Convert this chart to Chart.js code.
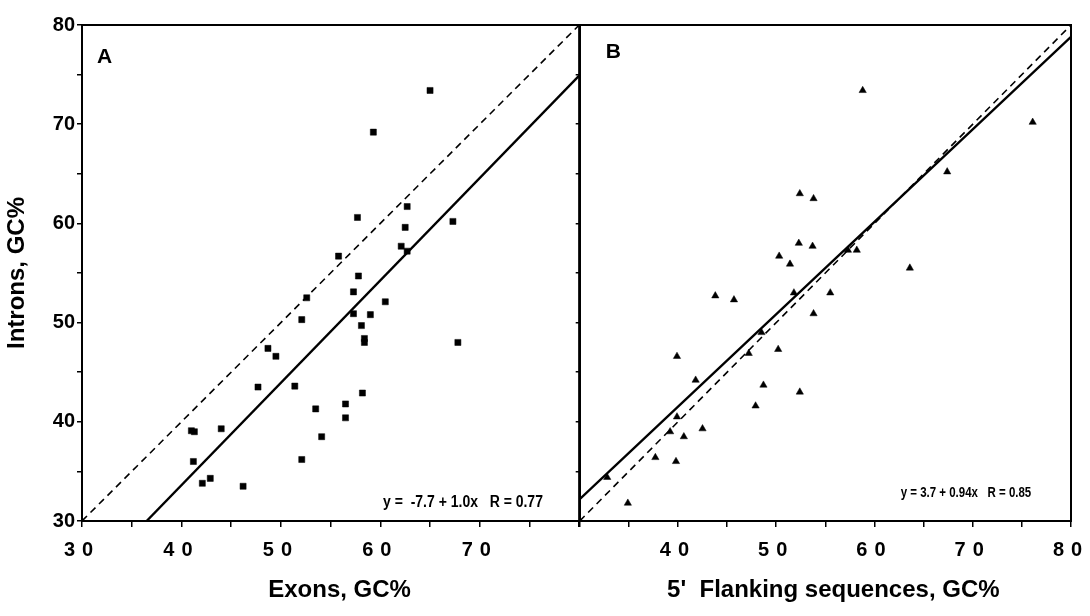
<!DOCTYPE html>
<html><head><meta charset="utf-8">
<script src="https://cdn.jsdelivr.net/npm/chart.js@4.4.1/dist/chart.umd.min.js"></script>
<style>
html,body{margin:0;padding:0;background:#fff;width:1090px;height:616px;overflow:hidden}
#ca{position:absolute;left:0;top:0}
#cb{position:absolute;left:575px;top:0}
</style></head><body>
<canvas id="ca" width="584" height="616"></canvas>
<canvas id="cb" width="515" height="616"></canvas>
<script>
// ---- Panel A: exons vs introns GC% ----
const exonsGC = [65.0, 59.3, 57.7, 62.7, 67.3, 62.5, 55.8, 62.1, 62.7, 57.8, 57.3, 52.6, 60.5, 52.1, 57.3, 59.0, 58.1, 58.4, 58.4, 67.8, 48.7, 49.5, 47.7, 51.4, 58.2, 56.5, 53.5, 56.5, 41.0, 41.3, 44.0, 54.1, 41.2, 52.1, 42.9, 42.1, 46.2];
const intronsA = [73.4, 69.2, 60.6, 61.7, 60.2, 59.6, 56.7, 57.7, 57.2, 54.7, 53.1, 52.5, 52.1, 50.3, 50.9, 50.8, 49.7, 48.4, 48.0, 48.0, 47.4, 46.6, 43.5, 43.6, 42.9, 41.8, 41.3, 40.4, 39.1, 39.0, 39.3, 38.5, 36.0, 36.2, 34.3, 33.8, 33.5];
// ---- Panel B: 5' flanking vs introns GC% ----
const flankGC = [58.8, 76.1, 67.4, 52.4, 53.8, 52.3, 53.7, 57.3, 58.2, 50.3, 51.4, 63.6, 51.8, 55.5, 43.8, 45.7, 53.8, 48.5, 50.2, 39.9, 47.2, 41.8, 48.7, 52.4, 47.9, 39.9, 42.5, 39.2, 40.6, 37.7, 39.8, 32.8, 34.9];
const intronsB = [73.4, 70.2, 65.2, 63.0, 62.5, 58.0, 57.7, 57.3, 57.3, 56.7, 55.9, 55.5, 53.0, 53.0, 52.7, 52.3, 50.9, 49.0, 47.3, 46.6, 46.9, 44.2, 43.7, 43.0, 41.6, 40.5, 39.3, 39.0, 38.5, 36.4, 36.0, 34.4, 31.8];
// ---- regression and identity lines (end points) ----
const fitA_x = [36.5, 80], fitA_y = [30, 74.9];
const fitB_x = [30, 80],   fitB_y = [32.2, 78.8];
const diag_x = [30, 80],   diag_y = [30, 80];
// ---- tick labels ----
const xLabelsA = [30, 40, 50, 60, 70];
const xLabelsB = [40, 50, 60, 70, 80];
const yLabels = [30, 40, 50, 60, 70, 80];
const eqA = 'y =  -7.7 + 1.0x   R = 0.77';
const eqB = 'y = 3.7 + 0.94x   R = 0.85';

const pts = (xs, ys) => xs.map((x, i) => ({x, y: ys[i]}));

// letter-spaced x tick labels like the original typesetting
const origDrawLabels = Chart.Scale.prototype.drawLabels;
Chart.Scale.prototype.drawLabels = function (area) {
  const ctx = this.ctx; ctx.save();
  if ('letterSpacing' in ctx) ctx.letterSpacing = this.isHorizontal() ? '7px' : '0px';
  origDrawLabels.call(this, area);
  ctx.restore();
};
// optional horizontal nudge of an axis title
const origDrawTitle = Chart.Scale.prototype.drawTitle;
Chart.Scale.prototype.drawTitle = function () {
  const ctx = this.ctx; ctx.save();
  const dx = this.options.titleShift || 0;
  ctx.translate(dx, 0);
  origDrawTitle.call(this);
  ctx.restore();
};

const panelText = {
  id: 'panelText',
  afterDraw(chart, args, o) {
    const {ctx, chartArea: a} = chart;
    ctx.save();
    ctx.strokeStyle = '#000'; ctx.lineWidth = 2;
    ctx.strokeRect(a.left, a.top, a.right - a.left, a.bottom - a.top);
    ctx.fillStyle = '#000'; ctx.textBaseline = 'alphabetic'; ctx.textAlign = 'left';
    ctx.font = 'bold 21px "Liberation Sans", Arial, sans-serif';
    ctx.fillText(o.letter, a.left + o.lx, a.top + o.ly);
    ctx.font = 'bold ' + o.esize + 'px "Liberation Sans", Arial, sans-serif';
    ctx.translate(a.left + o.ex, a.top + o.ey);
    ctx.scale(o.escale, 1);
    ctx.fillText(o.eq, 0, 0);
    ctx.restore();
  }
};

const xTickFont = {family: '"Liberation Sans", Arial, sans-serif', size: 20, weight: 'bold', lineHeight: 2.3};
const yTickFont = {family: '"Liberation Sans", Arial, sans-serif', size: 20, weight: 'bold'};
const titleFont = {family: '"Liberation Sans", Arial, sans-serif', size: 24, weight: 'bold'};

function makePanel(id, cfg) {
  return new Chart(document.getElementById(id), {
    type: 'scatter',
    data: {datasets: [
      {data: pts(diag_x, diag_y), showLine: true, borderColor: '#000', borderWidth: 1.6, borderDash: [7, 5], pointRadius: 0, fill: false},
      {data: pts(cfg.fitX, cfg.fitY), showLine: true, borderColor: '#000', borderWidth: 2.4, pointRadius: 0, fill: false},
      {data: pts(cfg.xs, cfg.ys), pointStyle: cfg.marker, pointRadius: cfg.radius, backgroundColor: '#000', borderColor: '#000', borderWidth: 0.5}
    ]},
    plugins: [panelText],
    options: {
      responsive: false, animation: false, devicePixelRatio: 1,
      layout: {padding: {top: 25, right: cfg.padRight, left: 0, bottom: 0}},
      plugins: {legend: {display: false}, tooltip: {enabled: false},
        panelText: cfg.text},
      scales: {
        x: {
          type: 'linear', min: 30, max: 80, titleShift: cfg.titleShift,
          afterFit: s => { s.height = 95; },
          border: {display: true, color: '#000', width: 2},
          grid: {drawOnChartArea: false, color: '#000', tickLength: 6, lineWidth: 1.5},
          ticks: {stepSize: 5, font: xTickFont, color: '#000', padding: 0, maxRotation: 0, autoSkip: false,
            callback: v => cfg.xLabels.includes(v) ? String(v) : ''},
          title: {display: true, text: cfg.xTitle, font: titleFont, color: '#000', padding: {top: 0, bottom: 11}}
        },
        y: {
          type: 'linear', min: 30, max: 80,
          afterFit: s => { s.width = cfg.yWidth; },
          border: {display: true, color: '#000', width: 2},
          grid: {drawOnChartArea: false, color: '#000', tickLength: cfg.yTick, lineWidth: 1.5},
          ticks: {display: cfg.yLabelsOn, stepSize: 5, font: yTickFont, color: '#000', padding: 2, autoSkip: false,
            callback: v => yLabels.includes(v) ? String(v) : ''},
          title: {display: cfg.yLabelsOn, text: 'Introns, GC%', font: titleFont, color: '#000', padding: {top: 3, bottom: 0}}
        }
      }
    }
  });
}

makePanel('ca', {xs: exonsGC, ys: intronsA, fitX: fitA_x, fitY: fitA_y, marker: 'rect', radius: 4.3,
  xLabels: xLabelsA, xTitle: 'Exons, GC%', yWidth: 82, yTick: 5, yLabelsOn: true, padRight: 1, titleShift: 9,
  text: {letter: 'A', lx: 15, ly: 38, eq: eqA, ex: 301, ey: 482, esize: 16, escale: 0.875}});
makePanel('cb', {xs: flankGC, ys: intronsB, fitX: fitB_x, fitY: fitB_y, marker: 'triangle', radius: 4.2,
  xLabels: xLabelsB, xTitle: "5'  Flanking sequences, GC%", yWidth: 4, yTick: 4, yLabelsOn: false, padRight: 19, titleShift: 8,
  text: {letter: 'B', lx: 26, ly: 33, eq: eqB, ex: 321, ey: 472, esize: 14, escale: 0.82}});
</script>
</body></html>
